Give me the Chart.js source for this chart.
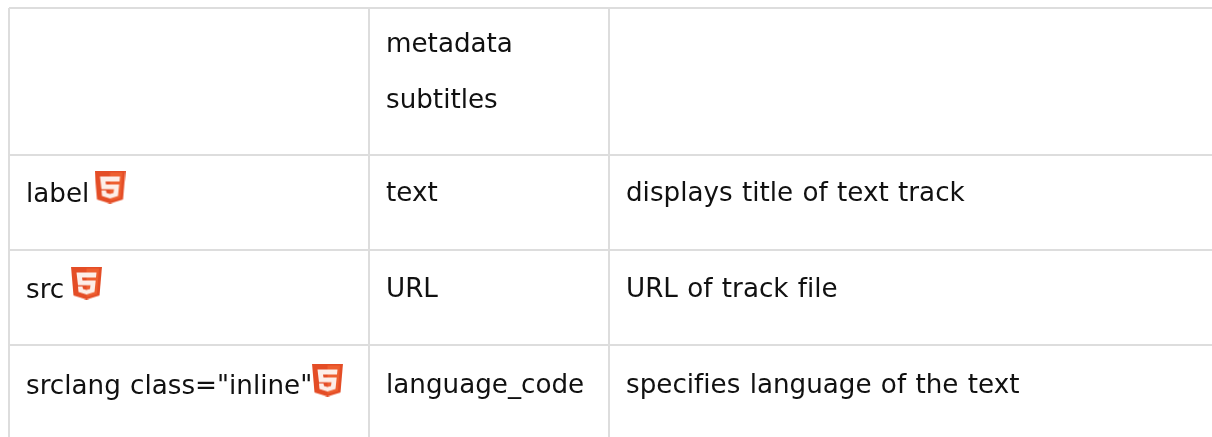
<!DOCTYPE html>
<html>
<head>
<meta charset="utf-8">
<style>
  html, body { margin: 0; padding: 0; background: #fff; }
  canvas { display: block; }
</style>
<script src="https://cdn.jsdelivr.net/npm/chart.js@4/dist/chart.umd.min.js"></script>
</head>
<body>
<canvas id="chart" width="1212" height="437"></canvas>
<script>
// table lines, in the page's own units
const columnEdges = [9, 369, 609];
const rowEdges = [8, 155, 250, 345];

// cell text: column, baseline, text
const cellColumns = [1, 1, 0, 1, 2, 0, 1, 2, 0, 1, 2];
const cellBaselines = [52, 108, 202, 201, 201, 298, 297, 297, 394, 393, 393];
const cellTexts = [
  "metadata",
  "subtitles",
  "label",
  "text",
  "displays title of text track",
  "src",
  "URL",
  "URL of track file",
  'srclang class="inline"',
  "language_code",
  "specifies language of the text",
];

// html5 badges
const badgeX = [110, 86.5, 327.5];
const badgeY = [187, 283, 380];

const cellPadding = 17;

const makeBadge = () => {
  const c = document.createElement("canvas");
  c.width = 31;
  c.height = 33;
  const g = c.getContext("2d");
  g.filter = "blur(0.5px)";
  const poly = (color, pts) => {
    g.fillStyle = color;
    g.beginPath();
    pts.forEach((p, i) => (i ? g.lineTo(p[0], p[1]) : g.moveTo(p[0], p[1])));
    g.closePath();
    g.fill();
  };
  poly("#e44d26", [[0, 0], [31, 0], [28.5, 29], [15.5, 33], [2.5, 29]]);
  poly("#ee5f30", [[15.5, 2], [28, 2], [26, 27.5], [15.5, 30.5]]);
  poly("#fdeee8", [
    [5.5, 6], [25.5, 6], [25, 11], [11, 11], [11.5, 14], [24.7, 14],
    [23.5, 25.5], [15.5, 28], [7.5, 25.5], [7, 20], [11.5, 20], [12, 22.5],
    [15.5, 23.5], [19, 22.5], [19.5, 18.8], [7, 18.8],
  ]);
  return c;
};

const cellText = {
  id: "cellText",
  afterDraw(chart) {
    const { ctx, scales } = chart;
    ctx.save();
    ctx.font = '26.2px "DejaVu Sans"';
    ctx.textRendering = "optimizeSpeed";
    ctx.wordSpacing = "1px";
    ctx.filter = "blur(0.35px)";
    ctx.fillStyle = "#111";
    ctx.textBaseline = "alphabetic";
    cellTexts.forEach((text, i) => {
      const x = scales.x.getPixelForValue(columnEdges[cellColumns[i]] + cellPadding);
      ctx.fillText(text, x, scales.y.getPixelForValue(cellBaselines[i]));
    });
    ctx.restore();
  },
};

new Chart(document.getElementById("chart"), {
  type: "scatter",
  data: {
    datasets: [
      {
        data: badgeX.map((x, i) => ({ x, y: badgeY[i] })),
        pointStyle: makeBadge(),
      },
    ],
  },
  options: {
    responsive: false,
    animation: false,
    layout: { autoPadding: false, padding: { left: 9, top: 8 } },
    plugins: { legend: { display: false }, tooltip: { enabled: false } },
    scales: {
      x: {
        type: "linear",
        min: 9,
        max: 1212,
        border: { display: false },
        grid: { color: "#dddddd", lineWidth: 2, drawTicks: false, tickLength: 0 },
        ticks: { display: false },
        afterBuildTicks: (scale) => {
          scale.ticks = columnEdges.map((value) => ({ value }));
        },
      },
      y: {
        type: "linear",
        reverse: true,
        min: 8,
        max: 437,
        border: { display: false },
        grid: { color: "#dddddd", lineWidth: 2, drawTicks: false, tickLength: 0 },
        ticks: { display: false },
        afterBuildTicks: (scale) => {
          scale.ticks = rowEdges.map((value) => ({ value }));
        },
      },
    },
  },
  plugins: [cellText],
});
</script>
</body>
</html>
